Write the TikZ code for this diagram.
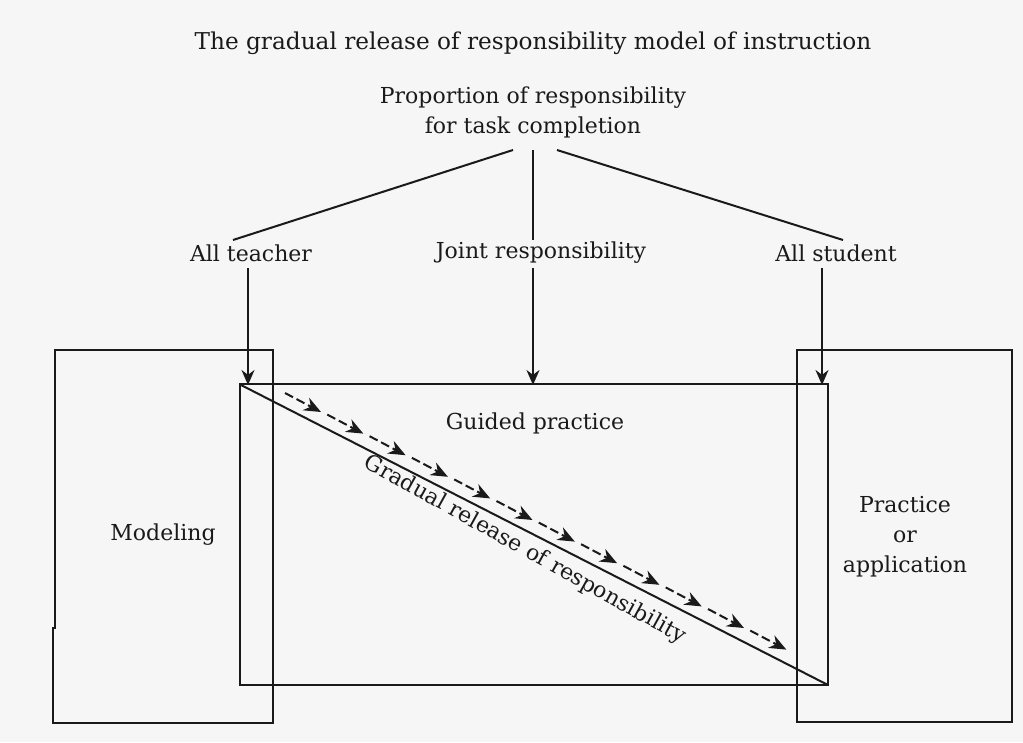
\documentclass[tikz,border=0pt]{standalone}
\usepackage{fontspec}
\setmainfont{DejaVu Serif}
\usetikzlibrary{arrows.meta}
\definecolor{bg}{HTML}{F6F6F6}
\definecolor{ink}{HTML}{1A1A1A}
\begin{document}
\begin{tikzpicture}[x=1pt,y=-1pt,
 lbl/.style={font=\fontsize{22}{30}\selectfont, text=ink, inner sep=0pt, align=center},
 box/.style={draw=ink, line width=2.4pt},
 conn/.style={draw=ink, line width=2pt},
 arr/.style={conn, -{Stealth[length=15pt,width=13pt]}},
 darr/.style={draw=ink, line width=2pt, dash pattern=on 9pt off 4pt, -{Stealth[length=17pt,width=14pt]}},
]
\fill[bg] (0,0) rectangle (1023,742);
\useasboundingbox (0,0) rectangle (1023,742);

% title and labels
\node[lbl, font=\fontsize{23.2}{30}\selectfont] (title) at (533,43) {The gradual release of responsibility model of instruction};
\node[lbl] (prop) at (533,112) {Proportion of responsibility\\for task completion};
\node[lbl] (teacher) at (251,253) {All teacher};
\node[lbl] (joint) at (541,253) {Joint responsibility};
\node[lbl] (student) at (836,253) {All student};

% rectangles
\draw[box] (55,350) -- (273,350) -- (273,723) -- (53,723) -- (53,628) -- (55,628) -- cycle;
\draw[box] (797,350) rectangle (1012,722);
\draw[box] (240,384) rectangle (828,685);

\node[lbl] (model) at (163,535) {Modeling};
\node[lbl] (guided) at (535,423) {Guided practice};
\node[lbl] (practice) at (905,537) {Practice\\or\\application};

% connectors from the proportion label
\coordinate (pl) at (513,150);
\coordinate (pm) at (533,150);
\coordinate (pr) at (557,150);
\coordinate (tl) at (233,240);
\coordinate (tm) at (533,240);
\coordinate (tr) at (843,240);
\draw[conn] (pl) -- (tl);
\draw[conn] (pm) -- (tm);
\draw[conn] (pr) -- (tr);

% arrows into the boxes
\coordinate (a1) at (248,268);
\coordinate (b1) at (248,385);
\coordinate (a2) at (533,268);
\coordinate (b2) at (533,385);
\coordinate (a3) at (822,268);
\coordinate (b3) at (822,385);
\draw[arr] (a1) -- (b1);
\draw[arr] (a2) -- (b2);
\draw[arr] (a3) -- (b3);

% diagonal
\coordinate (d1) at (241,385);
\coordinate (d2) at (828,685);
\draw[conn] (d1) -- (d2);

% dashed arrow chain
\foreach \i in {0,...,11}{
  \coordinate (s\i) at ({285+42.3*\i},{393+21.6*\i});
  \coordinate (e\i) at ({321+42.3*\i},{412+21.6*\i});
  \draw[darr] (s\i) -- (e\i);
}

\node[lbl, rotate=-29] (grad) at (525,550) {Gradual release of responsibility};
\end{tikzpicture}
\end{document}
